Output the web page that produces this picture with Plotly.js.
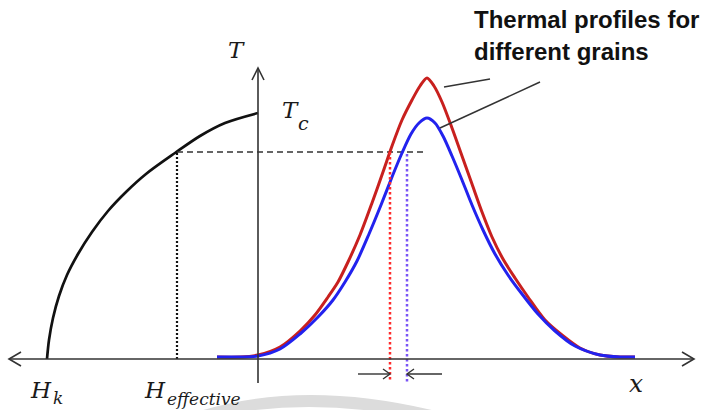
<!DOCTYPE html>
<html>
<head>
<meta charset="utf-8">
<script src="https://cdn.plot.ly/plotly-3.0.1.min.js"></script>
<style>
  html, body { margin: 0; padding: 0; background: #ffffff; }
  #chart { width: 704px; height: 410px; }
</style>
</head>
<body>
<div id="chart"></div>
<script>
// ---- Data (schematic units: x to the right of the T axis, T above the x axis) ----
// Curve on the left (H side)
const leftCurveX = [-211, -209, -205, -199, -191, -180, -166, -150, -132, -112, -83, -58, -33, 0];
const leftCurveY = [0, 19, 41, 63, 84, 105, 127, 148, 167, 185, 206, 223, 236, 246];

// Thermal profile, grain 1 (red)
const redX = [-41, -18, 0, 22, 42, 57, 70, 80, 90, 102, 114, 125, 134, 144, 154, 162, 169, 176, 184, 194, 204, 214, 224, 234, 245, 257, 270, 287, 304, 322, 342, 362, 377];
const redY = [2, 2, 4, 12, 28, 44, 62, 77, 97, 124, 156, 187, 213, 239, 259, 273, 281, 273, 257, 231, 203, 175, 147, 122, 100, 81, 62, 39, 24, 11, 4, 2, 2];

// Thermal profile, grain 2 (blue)
const blueX = [-41, -18, 0, 22, 42, 60, 75, 87, 99, 111, 123, 134, 144, 153, 161, 169, 177, 185, 194, 204, 214, 225, 237, 250, 264, 280, 297, 317, 342, 362, 377];
const blueY = [2, 2, 3, 10, 25, 42, 59, 77, 98, 125, 154, 182, 206, 225, 236, 241, 236, 223, 203, 179, 154, 129, 105, 84, 65, 45, 28, 13, 4, 2, 2];

// Reference levels
const hEff = -81;         // H_effective position
const tEff = 207;         // temperature level of the dashed line
const dashEndX = 169;     // dashed line end (profile peaks)
const redCrossX = 132;    // red marker position
const blueCrossX = 149;   // blue marker position
const blueCrossY = 205;
const dropY = -23;        // lower end of the crossing markers
const arrowY = -15;       // level of the small gap arrows

// Axis extents
const axisLeft = -249, axisRight = 436, axisTop = 291, axisBottom = -24;

// Labels
const titleLines = ["Thermal profiles for", "different grains"];

const serif = "DejaVu Serif";
const sans = "Liberation Sans";
const ink = "#1a1a1a";
const axisCol = "#333333";

const traces = [
  {x: leftCurveX, y: leftCurveY, mode: "lines", line: {color: "#111111", width: 2.7, shape: "spline", smoothing: 0.9}, hoverinfo: "skip"},
  {x: [hEff, dashEndX], y: [tEff, tEff], mode: "lines", line: {color: axisCol, width: 1.6, dash: "6px,4px"}, hoverinfo: "skip"},
  {x: [hEff, hEff], y: [0, tEff], mode: "lines", line: {color: "#111111", width: 2.2, dash: "2px,2px"}, hoverinfo: "skip"},
  {x: redX, y: redY, mode: "lines", line: {color: "#c8201e", width: 3, shape: "spline", smoothing: 0.8}, hoverinfo: "skip"},
  {x: blueX, y: blueY, mode: "lines", line: {color: "#2222ee", width: 3, shape: "spline", smoothing: 0.8}, hoverinfo: "skip"},
  {x: [redCrossX, redCrossX], y: [tEff, dropY], mode: "lines", line: {color: "#ff2a2a", width: 2.5, dash: "2.5px,2.5px"}, hoverinfo: "skip"},
  {x: [blueCrossX, blueCrossX], y: [blueCrossY, dropY], mode: "lines", line: {color: "#7a55f5", width: 2.5, dash: "2.5px,2.5px"}, hoverinfo: "skip"}
];

function seg(x0, y0, x1, y1, color, width) {
  return {type: "line", xref: "x", yref: "y", x0: x0, y0: y0, x1: x1, y1: y1,
          line: {color: color, width: width}};
}
function chevron(pts, color, width) {
  const d = "M" + pts.map(p => p[0] + "," + p[1]).join(" L");
  return {type: "path", xref: "x", yref: "y", path: d, line: {color: color, width: width}};
}

const shapes = [
  {type: "path", xref: "x", yref: "y", layer: "below",
   path: "M -61,-53 Q 45,-19 182,-53 L 122,-53 Q 50,-43 -18,-53 Z",
   fillcolor: "#dcdcdc", line: {width: 0}},
  seg(axisLeft, 0, axisRight, 0, axisCol, 1.6),
  chevron([[axisLeft + 12, 7], [axisLeft, 0], [axisLeft + 12, -7]], axisCol, 1.6),
  chevron([[axisRight - 12, 7], [axisRight, 0], [axisRight - 12, -7]], axisCol, 1.6),
  seg(0, axisBottom, 0, axisTop, axisCol, 1.6),
  chevron([[-6, axisTop - 12], [0, axisTop], [6, axisTop - 12]], axisCol, 1.6),
  seg(redCrossX - 32, arrowY, redCrossX, arrowY, axisCol, 1.4),
  chevron([[redCrossX - 7, arrowY + 5], [redCrossX, arrowY], [redCrossX - 7, arrowY - 5]], axisCol, 1.4),
  seg(blueCrossX + 35, arrowY, blueCrossX, arrowY, axisCol, 1.4),
  chevron([[blueCrossX + 7, arrowY + 5], [blueCrossX, arrowY], [blueCrossX + 7, arrowY - 5]], axisCol, 1.4),
  seg(186, 272, 232, 280, "#333333", 1.5),
  seg(182, 231, 282, 277, "#333333", 1.5)
];

function label(text, x, y, size, xanchor) {
  return {xref: "x", yref: "y", x: x, y: y, text: text, showarrow: false,
    xanchor: xanchor || "center", yanchor: "middle",
    font: {family: serif, size: size, color: ink, style: "italic"}};
}

const annotations = [
  label("T", -22, 309, 23),
  label("T", 32, 249, 23),
  label("c", 45, 236, 19),
  label("H", -217, -31, 23),
  label("k", -200, -39, 17),
  label("H", -103, -31, 23),
  label("effective", -93, -40, 17, "left"),
  label("x", 378, -24, 25),
  {xref: "x", yref: "y", x: 214, y: 340, text: titleLines[0], showarrow: false, xanchor: "left", yanchor: "middle",
   font: {family: sans, size: 24, color: "#111111", weight: "bold"}},
  {xref: "x", yref: "y", x: 214, y: 308, text: titleLines[1], showarrow: false, xanchor: "left", yanchor: "middle",
   font: {family: sans, size: 24, color: "#111111", weight: "bold"}}
];

const layout = {
  width: 704, height: 410,
  margin: {l: 0, r: 0, t: 0, b: 0, pad: 0},
  paper_bgcolor: "#ffffff", plot_bgcolor: "#ffffff",
  showlegend: false,
  xaxis: {range: [-258, 446], visible: false, fixedrange: true},
  yaxis: {range: [-51, 359], visible: false, fixedrange: true},
  shapes: shapes,
  annotations: annotations
};

Plotly.newPlot("chart", traces, layout, {displayModeBar: false, staticPlot: true});
</script>
</body>
</html>
